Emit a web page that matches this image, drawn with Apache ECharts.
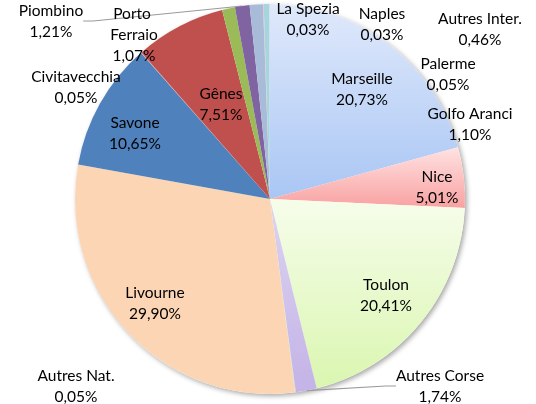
<!DOCTYPE html>
<html>
<head>
<meta charset="utf-8">
<script src="https://cdn.jsdelivr.net/npm/echarts@6/dist/echarts.min.js"></script>
<style>
  html, body { margin: 0; padding: 0; background: #fff; }
  #chart { width: 536px; height: 404px; }
</style>
</head>
<body>
<div id="chart"></div>
<script>
// ports, clockwise from 12 o'clock
var ports = ['Marseille', 'Nice', 'Toulon', 'Autres Corse', 'Autres Nat.', 'Livourne', 'Savone',
  'Civitavecchia', 'Gênes', 'Porto Ferraio', 'Piombino', 'Golfo Aranci', 'Palerme',
  'Autres Inter.', 'Naples', 'La Spezia']
var shares = [20.73, 5.01, 20.41, 1.74, 0.05, 29.90, 10.65, 0.05, 7.51, 1.07, 1.21, 1.10, 0.05, 0.46, 0.03, 0.03]

// slice fills: [top, bottom] for gradient slices, plain colour otherwise
var fills = {
  'Marseille': ['#e0e9fb', '#a9c6f4'],
  'Nice': ['#ffe2e2', '#f9a1a1'],
  'Toulon': ['#f6fdea', '#daf6b0'],
  'Autres Corse': ['#ddd4f1', '#c3b3e7'],
  'Autres Nat.': '#bcd9c4',
  'Livourne': '#fcd5b4',
  'Savone': '#4f81bd',
  'Civitavecchia': '#dfa7a5',
  'Gênes': '#c0504d',
  'Porto Ferraio': '#9bbb59',
  'Piombino': '#8064a2',
  'Golfo Aranci': '#a8bbd9',
  'Palerme': '#eab2ae',
  'Autres Inter.': '#a5d6df',
  'Naples': '#d0c0dd',
  'La Spezia': '#c9dcf1'
}

// label centres (Excel placed them by hand-ish)
var labelAt = {
  'Marseille': [362, 89], 'Nice': [437, 187], 'Toulon': [386, 295], 'Autres Corse': [440, 386],
  'Autres Nat.': [76, 386], 'Livourne': [155, 303], 'Savone': [135, 133], 'Civitavecchia': [76, 87],
  'Gênes': [221, 104], 'Porto Ferraio': [134, 35], 'Piombino': [51, 21], 'Golfo Aranci': [470, 124],
  'Palerme': [448, 74], 'Autres Inter.': [480, 29], 'Naples': [382, 24], 'La Spezia': [308, 19]
}
var withLine = ['Piombino', 'Autres Corse']

var CX = 270, CY = 199, R = 195

function pct(v) {
  return v.toFixed(2).replace('.', ',') + '%'
}

var pieData = ports.map(function (name, i) {
  var f = fills[name]
  var color = Array.isArray(f) ? {
    type: 'linear', x: 0, y: 0, x2: 0, y2: 1,
    colorStops: [{ offset: 0, color: f[0] }, { offset: 1, color: f[1] }]
  } : f
  var item = {
    name: name,
    value: shares[i],
    itemStyle: { color: color },
    labelLine: { show: withLine.indexOf(name) >= 0 }
  }
  if (name === 'Porto Ferraio') {
    item.label = { width: 60, overflow: 'break' }
  }
  return item
})

var chart = echarts.init(document.getElementById('chart'), null, { renderer: 'canvas' })
chart.setOption({
  backgroundColor: '#fff',
  animation: false,
  series: [
    {
      // whole-pie drop shadow
      type: 'pie',
      silent: true,
      z: 1,
      center: [CX, CY],
      radius: R,
      label: { show: false },
      labelLine: { show: false },
      itemStyle: {
        color: '#fff',
        shadowBlur: 5,
        shadowColor: 'rgba(0,0,0,0.35)',
        shadowOffsetX: 2,
        shadowOffsetY: 2
      },
      data: [{ value: 1 }]
    },
    {
      type: 'pie',
      z: 2,
      silent: true,
      center: [CX, CY],
      radius: R,
      startAngle: 90,
      clockwise: true,
      avoidLabelOverlap: false,
      itemStyle: { borderWidth: 0 },
      label: {
        show: true,
        position: 'outside',
        fontFamily: 'Lato',
        fontSize: 15.5,
        lineHeight: 21,
        color: '#000',
        align: 'center',
        formatter: function (p) {
          return p.name + '\n' + pct(p.value)
        }
      },
      labelLine: {
        show: false,
        smooth: false,
        length: 10,
        length2: 10,
        lineStyle: { color: '#9a9a9a', width: 1.2 }
      },
      labelLayout: function (p) {
        var at = labelAt[ports[p.dataIndex]]
        return { x: at[0], y: at[1], align: 'center', verticalAlign: 'middle' }
      },
      data: pieData
    }
  ]
})
</script>
</body>
</html>
